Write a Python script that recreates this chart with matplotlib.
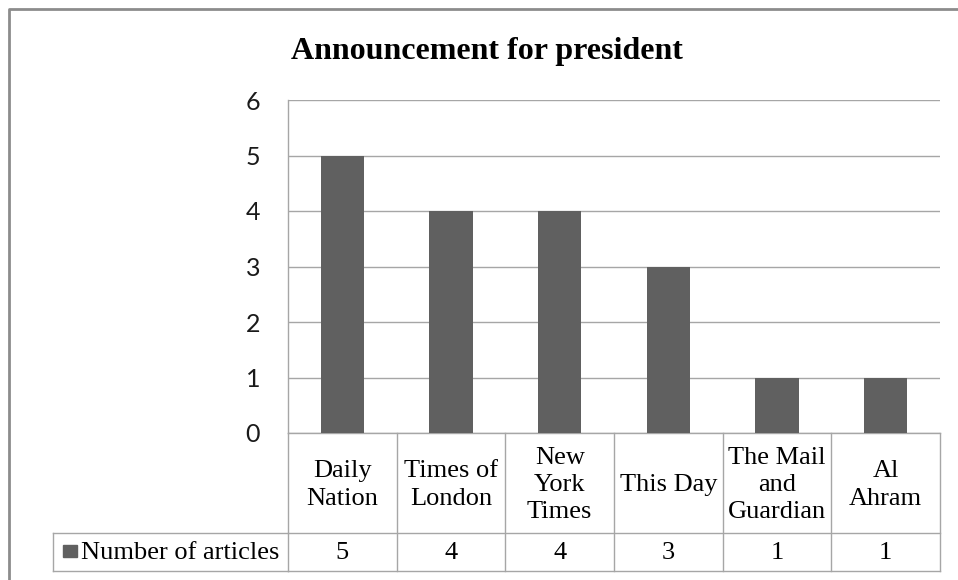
import matplotlib
matplotlib.use("Agg")
import matplotlib.pyplot as plt
import matplotlib.transforms as mtransforms
from matplotlib.patches import Rectangle

categories = ["Daily\nNation", "Times of\nLondon", "New\nYork\nTimes", "This Day",
              "The Mail\nand\nGuardian", "Al\nAhram"]
articles = [5, 4, 4, 3, 1, 1]
series_name = "Number of articles"
title = "Announcement for president"

W, H = 958, 580
bar_color = "#606060"
line_color = "#a6a6a6"
serif = "Liberation Serif"


def fx(px):
    return px / W


def fy(py):
    return 1 - py / H


fig = plt.figure(figsize=(W / 100, H / 100), dpi=100)

# plot area (pixels: left 288, right 940, top 100, bottom 433)
ax = fig.add_axes([fx(288), fy(433), fx(940) - fx(288), fy(100) - fy(433)])
x = list(range(len(categories)))
ax.bar(x, articles, width=0.4, color=bar_color, zorder=3)
ax.set_xlim(-0.5, len(categories) - 0.5)
ax.set_ylim(0, 6)
ax.set_yticks(range(0, 7))
ax.grid(axis="y", color=line_color, linewidth=1.0, zorder=0)
ax.set_xticks([])
for side in ["top", "right", "bottom"]:
    ax.spines[side].set_visible(False)
ax.spines["left"].set_color(line_color)
ax.spines["left"].set_linewidth(1.0)
ax.tick_params(axis="y", length=0, pad=20, labelsize=18, labelcolor="#1a1a1a")
for lab in ax.get_yticklabels():
    lab.set_fontfamily("Lato")

# data table below the plot
blend = mtransforms.blended_transform_factory(ax.transData, fig.transFigure)
top, mid, bot = fy(433), fy(533), fy(571)
n = len(categories)
ax.plot([-0.5, n - 0.5], [top, top], transform=blend, color=line_color, lw=1.0, clip_on=False)
for y in (mid, bot):
    fig.add_artist(plt.Line2D([fx(53), fx(288)], [y, y], color=line_color, lw=1.0))
    ax.plot([-0.5, n - 0.5], [y, y], transform=blend, color=line_color, lw=1.0, clip_on=False)
for i in range(n + 1):
    ax.plot([i - 0.5, i - 0.5], [top, bot], transform=blend, color=line_color, lw=1.0, clip_on=False)
fig.add_artist(plt.Line2D([fx(53), fx(53)], [mid, bot], color=line_color, lw=1.0))

for i, (cat, val) in enumerate(zip(categories, articles)):
    ax.text(i, fy(485), cat, transform=blend, ha="center", va="center",
            fontsize=19, family=serif, linespacing=1.3)
    ax.text(i, fy(553), str(val), transform=blend, ha="center", va="center",
            fontsize=19, family=serif)

# legend key in the table
fig.add_artist(Rectangle((fx(63), fy(557)), fx(14), 12 / H, color=bar_color,
                         transform=fig.transFigure))
fig.text(fx(81), fy(553), series_name, ha="left", va="center", fontsize=19, family=serif)

fig.text(fx(487), fy(59), title, ha="center", va="baseline", fontsize=23,
         family=serif, fontweight="bold")

# chart border (top and left edges visible)
fig.add_artist(plt.Line2D([fx(9), fx(9), 1.0], [0.0, fy(9), fy(9)], color="#8c8c8c", lw=2.0))

fig.savefig("out.png", dpi=100)
